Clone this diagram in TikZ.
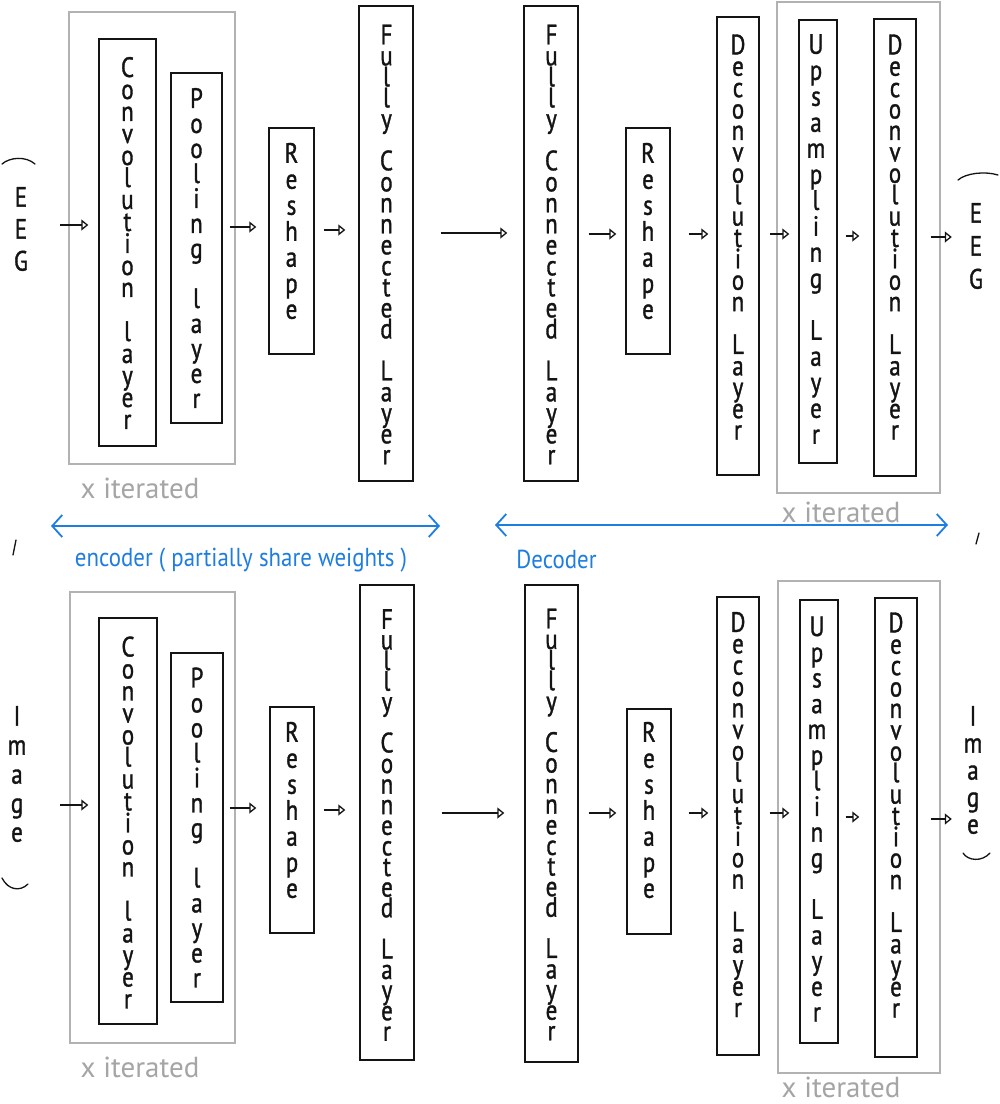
\documentclass[tikz,border=0pt]{standalone}
\usepackage{fontspec}
\setmainfont{PT Sans}
\newfontfamily\handfont{PT Sans}[FakeStretch=0.82,FakeBold=1.2]
\newfontfamily\notefont{PT Sans}[FakeStretch=0.88]
\usetikzlibrary{arrows.meta}
\definecolor{pen}{RGB}{20,20,20}
\definecolor{iterbox}{RGB}{178,178,178}
\definecolor{itertext}{RGB}{165,165,165}
\definecolor{note}{RGB}{30,125,225}

\begin{document}
\begin{tikzpicture}[x=1pt,y=-1pt,
  layer/.style={draw=pen, line width=1.4pt, inner sep=0pt},
  group/.style={draw=iterbox, line width=1.3pt, inner sep=0pt},
  letters/.style={inner sep=0pt, align=center, text=pen,
    font={\handfont\fontsize{28}{#1}\selectfont\lineskiplimit=-100pt\lineskip=0pt}},
  io/.style={letters=#1, minimum width=20pt},
  arr/.style={draw=pen, line width=1.3pt, -{Triangle[open,length=7pt,width=11pt]}},
  span/.style={draw=note, line width=1.8pt,
    {Straight Barb[length=10pt,width=22pt]}-{Straight Barb[length=10pt,width=22pt]}},
  iter/.style={inner sep=0pt, text=itertext, font=\fontsize{29}{29}\selectfont},
  notetext/.style={inner sep=0pt, text=note, font=\notefont\fontsize{26}{26}\selectfont},
  paren/.style={draw=pen, line width=1.3pt, line cap=round},
]
\useasboundingbox[fill=white] (0,0) rectangle (1000,1104);

% ---------------- EEG branch ----------------
\node[group, minimum width=166pt, minimum height=452pt] (gA) at (152,238) {};
\node[group, minimum width=163pt, minimum height=491pt] (gB) at (858.5,247.5) {};

\node[layer, minimum width=57pt, minimum height=407pt] (conv1) at (127.5,242.5) {};
\node[layer, minimum width=51pt, minimum height=350pt] (pool1) at (196.5,248) {};
\node[layer, minimum width=45pt, minimum height=226pt] (resh1) at (291.5,241) {};
\node[layer, minimum width=54pt, minimum height=475pt] (fc1) at (386,243.5) {};
\node[layer, minimum width=54pt, minimum height=475pt] (fc2) at (551,243.5) {};
\node[layer, minimum width=44pt, minimum height=226pt] (resh2) at (648,241) {};
\node[layer, minimum width=42pt, minimum height=458pt] (dec1) at (738,246) {};
\node[layer, minimum width=38pt, minimum height=443pt] (ups1) at (818,241.5) {};
\node[layer, minimum width=42pt, minimum height=457pt] (dec2) at (895,247.5) {};

\node[letters=22pt] (conv1t) at (127.5,243) {C\\o\\n\\v\\o\\l\\u\\t\\i\\o\\n\\ \\l\\a\\y\\e\\r};
\node[letters=25pt] (pool1t) at (196.5,248) {P\\o\\o\\l\\i\\n\\g\\ \\l\\a\\y\\e\\r};
\node[letters=26pt] (resh1t) at (291.5,231) {R\\e\\s\\h\\a\\p\\e};
\node[letters=21pt] (fc1t) at (386.5,244.5) {F\\u\\l\\l\\y\\ \\C\\o\\n\\n\\e\\c\\t\\e\\d\\ \\L\\a\\y\\e\\r};
\node[letters=21pt] (fc2t) at (551.5,244.5) {F\\u\\l\\l\\y\\ \\C\\o\\n\\n\\e\\c\\t\\e\\d\\ \\L\\a\\y\\e\\r};
\node[letters=26pt] (resh2t) at (648,231) {R\\e\\s\\h\\a\\p\\e};
\node[letters=21.4pt] (dec1t) at (738,237) {D\\e\\c\\o\\n\\v\\o\\l\\u\\t\\i\\o\\n\\ \\L\\a\\y\\e\\r};
\node[letters=26pt] (ups1t) at (816,239) {U\\p\\s\\a\\m\\p\\l\\i\\n\\g\\ \\L\\a\\y\\e\\r};
\node[letters=21.4pt] (dec2t) at (895,237) {D\\e\\c\\o\\n\\v\\o\\l\\u\\t\\i\\o\\n\\ \\L\\a\\y\\e\\r};

\node[io=32pt] (eegL) at (21,229) {E\\E\\G};
\node[io=33pt] (eegR) at (976,246) {E\\E\\G};
\draw[paren] (2,164) .. controls (10,157) and (26,156) .. (35,164);
\draw[paren] (958,180) .. controls (966,173) and (985,171) .. (998,175);
\draw[paren] (13,555) -- (16,540);
\draw[paren] (976,544) -- (979,533);

\draw[arr, shorten <=29pt, shorten >=10pt] (eegL.east |- 0,225) -- (conv1.west |- 0,225);
\draw[arr, shorten <=7pt, shorten >=12pt] (pool1.east |- 0,227) -- (resh1.west |- 0,227);
\draw[arr, shorten <=9pt, shorten >=13pt] (resh1.east |- 0,230) -- (fc1.west |- 0,230);
\draw[arr, shorten <=27pt, shorten >=16pt] (fc1.east |- 0,233) -- (fc2.west |- 0,233);
\draw[arr, shorten <=10pt, shorten >=9pt] (fc2.east |- 0,234) -- (resh2.west |- 0,234);
\draw[arr, shorten <=18pt, shorten >=8pt] (resh2.east |- 0,234) -- (dec1.west |- 0,234);
\draw[arr, shorten <=10pt, shorten >=9pt] (dec1.east |- 0,234) -- (ups1.west |- 0,234);
\draw[arr, shorten <=8pt, shorten >=14pt] (ups1.east |- 0,236) -- (dec2.west |- 0,236);
\draw[arr, shorten <=14pt, shorten >=14pt] (dec2.east |- 0,237) -- (eegR.west |- 0,237);

\node[iter] (iterA) at (140,488) {x iterated};
\node[iter] (iterB) at (841,512) {x iterated};

% ---------------- shared annotations ----------------
\coordinate (encL) at (51,526);
\coordinate (encR) at (440,526);
\coordinate (decL) at (495,525);
\coordinate (decR) at (948,525);
\draw[span] (encL) -- (encR);
\draw[span] (decL) -- (decR);
\node[notetext] (enc) at (241,560) {encoder ( partially share weights )};
\node[notetext] (dec) at (556.5,559) {Decoder};

% ---------------- Image branch ----------------
\node[group, minimum width=165pt, minimum height=451pt] (gC) at (152.5,817.5) {};
\node[group, minimum width=162pt, minimum height=492pt] (gD) at (859,827) {};

\node[layer, minimum width=58pt, minimum height=406pt] (conv2) at (128,821) {};
\node[layer, minimum width=52pt, minimum height=349pt] (pool2) at (197,827.5) {};
\node[layer, minimum width=44pt, minimum height=226pt] (resh3) at (292,820) {};
\node[layer, minimum width=54pt, minimum height=475pt] (fc3) at (387,822.5) {};
\node[layer, minimum width=53pt, minimum height=477pt] (fc4) at (551.5,823.5) {};
\node[layer, minimum width=44pt, minimum height=225pt] (resh4) at (649,821.5) {};
\node[layer, minimum width=42pt, minimum height=458pt] (dec3) at (738,826) {};
\node[layer, minimum width=38pt, minimum height=443pt] (ups2) at (819,821.5) {};
\node[layer, minimum width=42pt, minimum height=459pt] (dec4) at (896,827.5) {};

\node[letters=22pt] (conv2t) at (128,822.5) {C\\o\\n\\v\\o\\l\\u\\t\\i\\o\\n\\ \\l\\a\\y\\e\\r};
\node[letters=25pt] (pool2t) at (197,827.5) {P\\o\\o\\l\\i\\n\\g\\ \\l\\a\\y\\e\\r};
\node[letters=26pt] (resh3t) at (292,810) {R\\e\\s\\h\\a\\p\\e};
\node[letters=20.6pt] (fc3t) at (387,825) {F\\u\\l\\l\\y\\ \\C\\o\\n\\n\\e\\c\\t\\e\\d\\ \\L\\a\\y\\e\\r};
\node[letters=20.6pt] (fc4t) at (551.5,824.5) {F\\u\\l\\l\\y\\ \\C\\o\\n\\n\\e\\c\\t\\e\\d\\ \\L\\a\\y\\e\\r};
\node[letters=26pt] (resh4t) at (649,810) {R\\e\\s\\h\\a\\p\\e};
\node[letters=21.4pt] (dec3t) at (738,814.5) {D\\e\\c\\o\\n\\v\\o\\l\\u\\t\\i\\o\\n\\ \\L\\a\\y\\e\\r};
\node[letters=25.7pt] (ups2t) at (817,819) {U\\p\\s\\a\\m\\p\\l\\i\\n\\g\\ \\L\\a\\y\\e\\r};
\node[letters=21.4pt] (dec4t) at (896,815) {D\\e\\c\\o\\n\\v\\o\\l\\u\\t\\i\\o\\n\\ \\L\\a\\y\\e\\r};

\node[io=29pt] (imgL) at (17,774) {I\\m\\a\\g\\e};
\node[io=27pt] (imgR) at (973,770) {I\\m\\a\\g\\e};
\draw[paren] (2,878) .. controls (8,890) and (20,892) .. (28,884);
\draw[paren] (963,853) .. controls (968,861) and (982,862) .. (990,853);

\draw[arr, shorten <=33pt, shorten >=10pt] (imgL.east |- 0,805) -- (conv2.west |- 0,805);
\draw[arr, shorten <=6pt, shorten >=13pt] (pool2.east |- 0,808) -- (resh3.west |- 0,808);
\draw[arr, shorten <=9pt, shorten >=14pt] (resh3.east |- 0,810) -- (fc3.west |- 0,810);
\draw[arr, shorten <=27pt, shorten >=20pt] (fc3.east |- 0,813) -- (fc4.west |- 0,813);
\draw[arr, shorten <=10pt, shorten >=10pt] (fc4.east |- 0,813) -- (resh4.west |- 0,813);
\draw[arr, shorten <=17pt, shorten >=8pt] (resh4.east |- 0,813) -- (dec3.west |- 0,813);
\draw[arr, shorten <=10pt, shorten >=10pt] (dec3.east |- 0,813) -- (ups2.west |- 0,813);
\draw[arr, shorten <=7pt, shorten >=15pt] (ups2.east |- 0,817) -- (dec4.west |- 0,817);
\draw[arr, shorten <=13pt, shorten >=11pt] (dec4.east |- 0,819) -- (imgR.west |- 0,819);

\node[iter] (iterC) at (140,1067) {x iterated};
\node[iter] (iterD) at (841,1087) {x iterated};
\end{tikzpicture}
\end{document}
